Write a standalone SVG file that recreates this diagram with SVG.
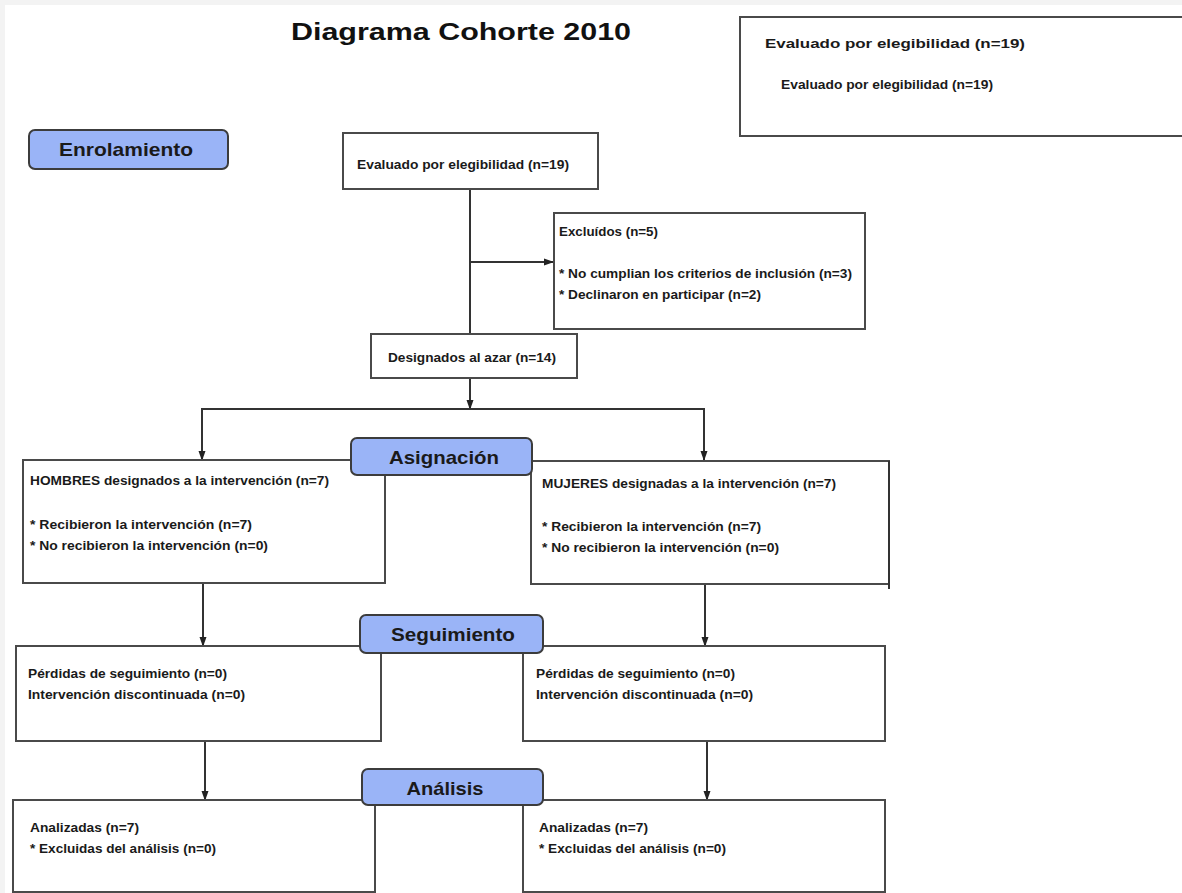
<svg xmlns="http://www.w3.org/2000/svg" width="1182" height="893" viewBox="0 0 1182 893">
<defs>
<marker id="arr" markerWidth="10" markerHeight="10" refX="9" refY="5" orient="auto" markerUnits="userSpaceOnUse">
<path d="M0,1.5 L10,5 L0,8.5 Z" fill="#222"/>
</marker>
<style>
.box{fill:#fff;stroke:#4a4a4a;stroke-width:2}
.lab{fill:#9ab4f7;stroke:#3c3c3c;stroke-width:2}
.t{font-family:"Liberation Sans",Arial,sans-serif;font-weight:bold;font-size:13px;fill:#1a1a1a}
.h{font-family:"Liberation Sans",Arial,sans-serif;font-weight:bold;font-size:19px;fill:#1a1a1a;text-anchor:middle}
.ln{fill:none;stroke:#333;stroke-width:2}
</style>
</defs>
<rect x="0" y="0" width="1182" height="893" fill="#f3f3f3"/>
<rect x="5" y="5" width="1177" height="888" fill="#fff"/>
<text x="461" y="40" font-family="Liberation Sans,Arial,sans-serif" font-weight="bold" font-size="24" fill="#111" text-anchor="middle" textLength="340" lengthAdjust="spacingAndGlyphs">Diagrama Cohorte 2010</text>

<g id="topright">
<rect class="box" x="740" y="17" width="450" height="119"/>
<text class="t" x="765" y="48" font-size="15" textLength="260" lengthAdjust="spacingAndGlyphs">Evaluado por elegibilidad (n=19)</text>
<text class="t" x="781" y="89" textLength="212" lengthAdjust="spacingAndGlyphs">Evaluado por elegibilidad (n=19)</text>
</g>

<g id="connectors">
<path class="ln" d="M470,189 V335"/>
<path class="ln" d="M470,262 H553" marker-end="url(#arr)"/>
<path class="ln" d="M470,378 V409" marker-end="url(#arr)"/>
<path class="ln" d="M470,409 H202 V460" marker-end="url(#arr)"/>
<path class="ln" d="M470,409 H704 V460" marker-end="url(#arr)"/>
<path class="ln" d="M203,583 V646" marker-end="url(#arr)"/>
<path class="ln" d="M705,584 V646" marker-end="url(#arr)"/>
<path class="ln" d="M205,741 V800" marker-end="url(#arr)"/>
<path class="ln" d="M707,741 V800" marker-end="url(#arr)"/>
</g>

<g id="enrolamiento">
<rect class="lab" x="29" y="130" width="199" height="39" rx="6"/>
<text class="h" x="126" y="156" textLength="134" lengthAdjust="spacingAndGlyphs">Enrolamiento</text>
</g>

<g id="evaluado">
<rect class="box" x="343" y="133" width="255" height="56"/>
<text class="t" x="357" y="169" textLength="212" lengthAdjust="spacingAndGlyphs">Evaluado por elegibilidad (n=19)</text>
</g>

<g id="excluidos">
<rect class="box" x="554" y="213" width="311" height="116"/>
<text class="t" x="559" y="236" textLength="99" lengthAdjust="spacingAndGlyphs">Excluídos (n=5)</text>
<text class="t" x="559" y="278" textLength="293" lengthAdjust="spacingAndGlyphs">* No cumplian los criterios de inclusión (n=3)</text>
<text class="t" x="559" y="299" textLength="202" lengthAdjust="spacingAndGlyphs">* Declinaron en participar (n=2)</text>
</g>

<g id="designados">
<rect class="box" x="371" y="334" width="206" height="44"/>
<text class="t" x="388" y="362" textLength="168" lengthAdjust="spacingAndGlyphs">Designados al azar (n=14)</text>
</g>

<g id="hombres">
<rect class="box" x="23" y="460" width="362" height="123"/>
<text class="t" x="30" y="485" textLength="299" lengthAdjust="spacingAndGlyphs">HOMBRES designados a la intervención (n=7)</text>
<text class="t" x="30" y="529" textLength="222" lengthAdjust="spacingAndGlyphs">* Recibieron la intervención (n=7)</text>
<text class="t" x="30" y="550" textLength="238" lengthAdjust="spacingAndGlyphs">* No recibieron la intervención (n=0)</text>
</g>

<g id="mujeres">
<rect class="box" x="531" y="461" width="358" height="123"/>
<path class="ln" d="M889,461 V589"/>
<text class="t" x="542" y="488" textLength="294" lengthAdjust="spacingAndGlyphs">MUJERES designadas a la intervención (n=7)</text>
<text class="t" x="542" y="531" textLength="219" lengthAdjust="spacingAndGlyphs">* Recibieron la intervención (n=7)</text>
<text class="t" x="542" y="552" textLength="237" lengthAdjust="spacingAndGlyphs">* No recibieron la intervención (n=0)</text>
</g>

<g id="asignacion">
<rect class="lab" x="351" y="438" width="181" height="37" rx="6"/>
<text class="h" x="444" y="464" textLength="110" lengthAdjust="spacingAndGlyphs">Asignación</text>
</g>

<g id="seg-left">
<rect class="box" x="16" y="646" width="365" height="95"/>
<text class="t" x="28" y="678" textLength="199" lengthAdjust="spacingAndGlyphs">Pérdidas de seguimiento (n=0)</text>
<text class="t" x="28" y="699" textLength="217" lengthAdjust="spacingAndGlyphs">Intervención discontinuada (n=0)</text>
</g>

<g id="seg-right">
<rect class="box" x="523" y="646" width="362" height="95"/>
<text class="t" x="536" y="678" textLength="199" lengthAdjust="spacingAndGlyphs">Pérdidas de seguimiento (n=0)</text>
<text class="t" x="536" y="699" textLength="217" lengthAdjust="spacingAndGlyphs">Intervención discontinuada (n=0)</text>
</g>

<g id="seguimiento">
<rect class="lab" x="360" y="615" width="183" height="38" rx="6"/>
<text class="h" x="453" y="641" textLength="124" lengthAdjust="spacingAndGlyphs">Seguimiento</text>
</g>

<g id="ana-left">
<rect class="box" x="13" y="800" width="362" height="92"/>
<text class="t" x="30" y="832" textLength="109" lengthAdjust="spacingAndGlyphs">Analizadas (n=7)</text>
<text class="t" x="30" y="853" textLength="186" lengthAdjust="spacingAndGlyphs">* Excluidas del análisis (n=0)</text>
</g>

<g id="ana-right">
<rect class="box" x="523" y="800" width="362" height="92"/>
<text class="t" x="539" y="832" textLength="109" lengthAdjust="spacingAndGlyphs">Analizadas (n=7)</text>
<text class="t" x="539" y="853" textLength="187" lengthAdjust="spacingAndGlyphs">* Excluidas del análisis (n=0)</text>
</g>

<g id="analisis">
<rect class="lab" x="362" y="769" width="181" height="36" rx="6"/>
<text class="h" x="445" y="795" textLength="77" lengthAdjust="spacingAndGlyphs">Análisis</text>
</g>
</svg>
